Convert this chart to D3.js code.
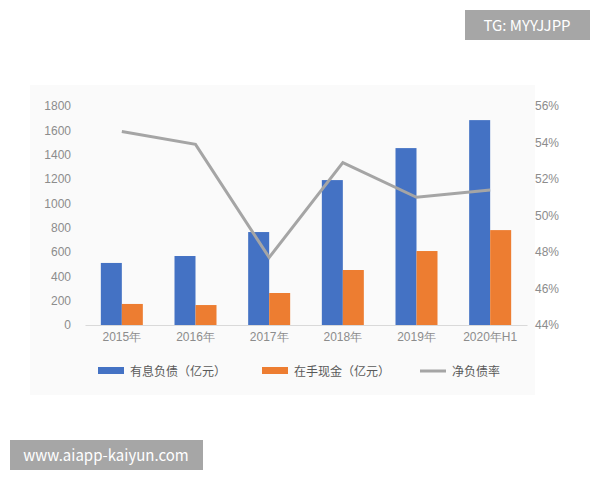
<!DOCTYPE html><html><head><meta charset="utf-8"><script src="https://cdn.jsdelivr.net/npm/d3@7"></script>
<style>body{margin:0;background:#fff}svg{font-family:"Noto Sans CJK SC","Noto Sans",sans-serif}</style></head><body><svg width="600" height="480"></svg>
<script>
const categories=["2015年","2016年","2017年","2018年","2019年","2020年H1"];
const debt=[510,567,764,1191,1454,1684];
const cash=[173,164,263,452,608,780];
const ratio=[54.6,53.9,47.7,52.9,51.0,51.4];
const leftTicks=[0,200,400,600,800,1000,1200,1400,1600,1800];
const rightTicks=[44,46,48,50,52,54,56];
const svg=d3.select("svg");
svg.append("rect").attr("x",30).attr("y",85).attr("width",505).attr("height",310).attr("fill","#fafafa");
const x=d3.scaleBand().domain(categories).range([85,527]);
const y=d3.scaleLinear().domain([0,1800]).range([325,106]);
const y2=d3.scaleLinear().domain([44,56]).range([325,106]);
const ga=svg.append("g").attr("transform","translate(74,0)").call(d3.axisLeft(y).tickValues(leftTicks).tickSize(0).tickFormat(d=>String(d)));
ga.select(".domain").remove();ga.selectAll("text").attr("fill","#8c8c8c").attr("font-size",12);
const gr=svg.append("g").attr("transform","translate(532,0)").call(d3.axisRight(y2).tickValues(rightTicks).tickSize(0).tickFormat(d=>d+"%"));
gr.select(".domain").remove();gr.selectAll("text").attr("fill","#8c8c8c").attr("font-size",12);
const gx=svg.append("g").attr("transform","translate(0,325)").call(d3.axisBottom(x).tickSize(0));
gx.select(".domain").attr("stroke","#d9d9d9");gx.selectAll("text").attr("fill","#8c8c8c").attr("font-size",12).attr("dy","1.1em");
const bw=21;
svg.selectAll(".b").data(categories).enter().append("rect").attr("x",d=>x(d)+x.bandwidth()/2-bw).attr("width",bw).attr("y",(d,i)=>y(debt[i])).attr("height",(d,i)=>325-y(debt[i])).attr("fill","#4472c4");
svg.selectAll(".o").data(categories).enter().append("rect").attr("x",d=>x(d)+x.bandwidth()/2).attr("width",bw).attr("y",(d,i)=>y(cash[i])).attr("height",(d,i)=>325-y(cash[i])).attr("fill","#ed7d31");
svg.append("path").datum(ratio).attr("d",d3.line().x((d,i)=>x(categories[i])+x.bandwidth()/2).y(d=>y2(d))).attr("fill","none").attr("stroke","#a5a5a5").attr("stroke-width",3);
const leg=[["有息负债（亿元）","#4472c4",98,"r"],["在手现金（亿元）","#ed7d31",262,"r"],["净负债率","#a5a5a5",420,"l"]];
leg.forEach(([t,c,lx,k])=>{
 if(k=="r")svg.append("rect").attr("x",lx).attr("y",367).attr("width",26).attr("height",7).attr("fill",c);
 else svg.append("line").attr("x1",lx).attr("x2",lx+26).attr("y1",371).attr("y2",371).attr("stroke",c).attr("stroke-width",3);
 svg.append("text").attr("x",lx+32).attr("y",376).attr("font-size",12).attr("fill","#595959").text(t);
});
svg.append("rect").attr("x",465).attr("y",10).attr("width",125).attr("height",30).attr("fill","#a6a6a6");
svg.append("text").attr("x",527).attr("y",31).attr("text-anchor","middle").attr("fill","#fff").attr("font-size",15).text("TG: MYYJJPP");
svg.append("rect").attr("x",10).attr("y",440).attr("width",193).attr("height",30).attr("fill","#a6a6a6");
svg.append("text").attr("x",106).attr("y",461).attr("text-anchor","middle").attr("fill","#fff").attr("font-size",15).text("www.aiapp-kaiyun.com");
</script></body></html>
